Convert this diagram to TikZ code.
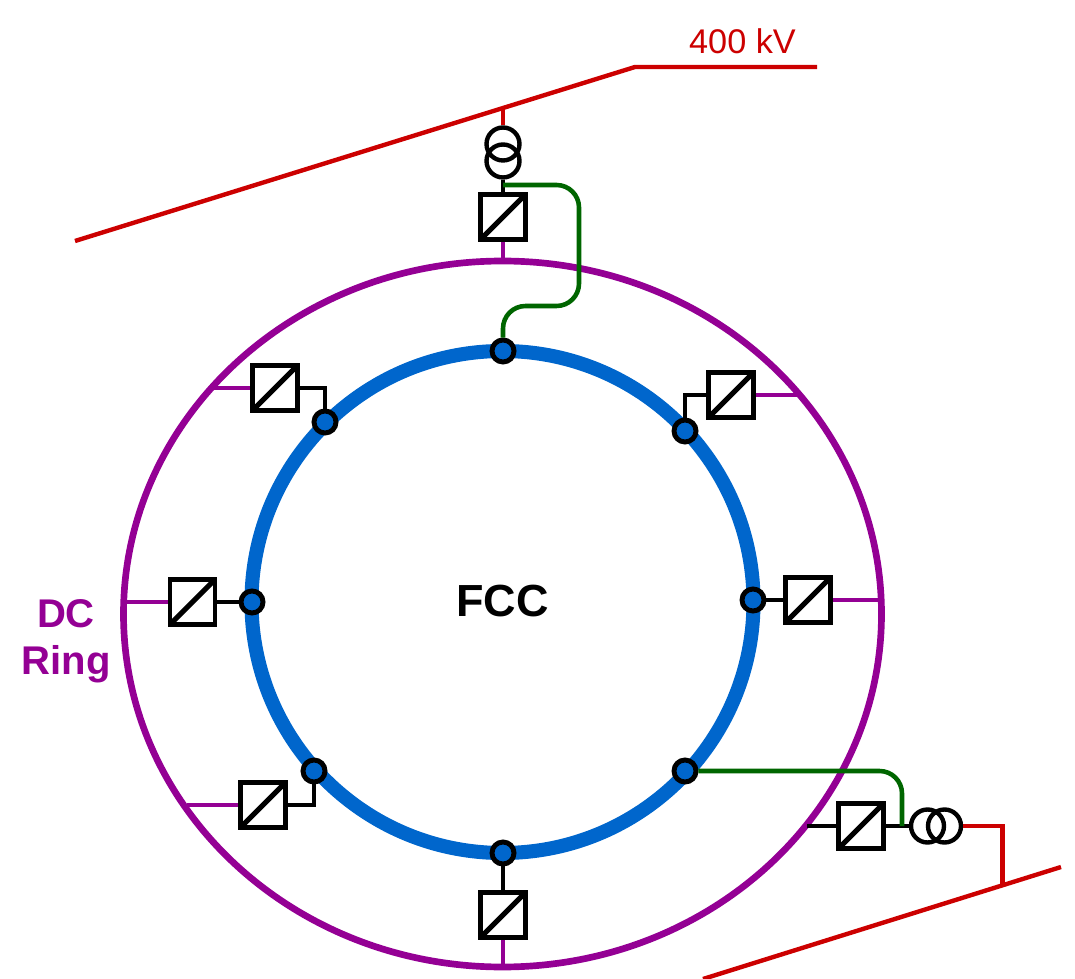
\documentclass[tikz,border=0pt]{standalone}
\usepackage{fontspec}
\setmainfont{Liberation Sans}
\definecolor{gridred}{RGB}{204,0,0}
\definecolor{ringpurple}{RGB}{148,0,148}
\definecolor{fccblue}{RGB}{0,102,204}
\definecolor{linkgreen}{RGB}{0,102,0}
\tikzset{
	conv/.style={draw=black,line width=2.8pt,minimum size=.9cm,inner sep=0pt,fill=white,path picture={\draw[line width=2.9pt] (path picture bounding box.south west) -- (path picture bounding box.north east);}},
	bus/.style={circle,draw=black,line width=2.8pt,fill=fccblue,minimum size=.44cm,inner sep=0pt},
	dcline/.style={ringpurple,line width=2.4pt},
	acline/.style={gridred,line width=2.5pt},
	link/.style={linkgreen,line width=2.6pt,rounded corners=.45cm},
	wire/.style={black,line width=2.4pt},
	coil/.style={circle,draw=black,line width=2.5pt,minimum size=.66cm,inner sep=0pt}
}
\begin{document}
\begin{tikzpicture}[x=.02cm,y=-.02cm]
	\useasboundingbox (0,0) rectangle (1075,979);
	% rings
	\coordinate (cendc) at (502.5,614);
	\coordinate (cenfcc) at (502.5,602);
	\draw[ringpurple,line width=3.8pt] (cendc) ellipse [x radius=379,y radius=353];
	\draw[fccblue,line width=8pt] (cenfcc) circle [radius=251];

	% grid lines
	\coordinate (gridw) at (75,241);
	\coordinate (gridk) at (635,67);
	\coordinate (gride) at (817,67);
	\coordinate (gridt) at (503,108);
	\coordinate (grids) at (703,979);
	\coordinate (gridz) at (1061,867);
	\coordinate (gridb) at (1002.5,885);
	\draw[acline] (gridw) -- (gridk) -- (gride);
	\draw[acline] (grids) -- (gridz);

	% DC tap points
	\coordinate (tapt) at (503,261);
	\coordinate (tapne) at (800,395);
	\coordinate (tape) at (881,600);
	\coordinate (tapse) at (807,826);
	\coordinate (taps) at (503,967);
	\coordinate (tapsw) at (187,805);
	\coordinate (tapw) at (123,602);
	\coordinate (tapnw) at (212,388);

	% buses
	\node[bus] (bust) at (503,351) {};
	\node[bus] (busne) at (685,431) {};
	\node[bus] (buse) at (753,600) {};
	\node[bus] (busse) at (685,771) {};
	\node[bus] (buss) at (503,853) {};
	\node[bus] (bussw) at (314,771) {};
	\node[bus] (busw) at (252,602) {};
	\node[bus] (busnw) at (325,422) {};

	% converters
	\node[conv] (convt) at (503,217) {};
	\node[conv] (convne) at (731,395) {};
	\node[conv] (conve) at (808,600) {};
	\node[conv] (convse) at (861,826) {};
	\node[conv] (convs) at (503,915) {};
	\node[conv] (convsw) at (263,805) {};
	\node[conv] (convw) at (192.5,602) {};
	\node[conv] (convnw) at (275,388) {};

	\draw[dcline] (convt) -- (tapt);
	\draw[dcline] (convne) -- (tapne);
	\draw[dcline] (conve) -- (tape);
	\draw[dcline] (convs) -- (taps);
	\draw[dcline] (convsw) -- (tapsw);
	\draw[dcline] (convw) -- (tapw);
	\draw[dcline] (convnw) -- (tapnw);

	% converters to buses
	\draw[wire] (convne.west) -| (busne);
	\draw[wire] (conve) -- (buse);
	\draw[wire] (convs) -- (buss);
	\draw[wire] (convsw.east) -| (bussw);
	\draw[wire] (convw) -- (busw);
	\draw[wire] (convnw.east) -| (busnw);
	\draw[wire] (convse.west) -- (tapse);

	% transformers
	\node[coil] (trati) at (503,144) {};
	\node[coil] (tratii) at (503,161) {};
	\node[coil] (trasi) at (927.5,826) {};
	\node[coil] (trasii) at (944.5,826) {};
	\draw[acline] (gridt) -- (trati);
	\draw[wire] (tratii) -- (convt);
	\draw[acline] (trasii) -| (gridb);
	\draw[wire] (convse) -- (trasi);

	% links to the FCC ring
	\coordinate (linkt) at (503,185);
	\coordinate (linkse) at (902,826);
	\draw[link] (linkt) -- (579,185) -- (579,306) -- (503,306) -- (bust);
	\draw[link] (busse) -- (902,771) -- (linkse);

	\node[font=\bfseries\fontsize{25.6pt}{25.6pt}\selectfont] (fcc) at (502.5,601) {FCC};
	\node[ringpurple,font=\bfseries\fontsize{22.8pt}{26.6pt}\selectfont,align=center] (dcring) at (66,641) {DC\\Ring};
	\node[gridred,font=\fontsize{19.5pt}{19.5pt}\selectfont] (kv) at (742.5,41) {400 kV};
\end{tikzpicture}
\end{document}
